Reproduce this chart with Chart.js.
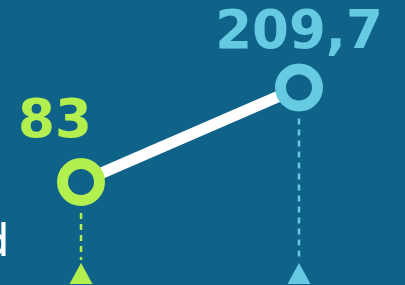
<!DOCTYPE html>
<html>
<head>
<meta charset="utf-8">
<script src="https://cdn.jsdelivr.net/npm/chart.js@4/dist/chart.umd.min.js"></script>
<style>
  html, body { margin: 0; padding: 0; background: #0f6389; overflow: hidden; }
  #wrap { width: 405px; height: 285px; position: relative; }
</style>
</head>
<body>
<div id="wrap"><canvas id="valueChart"></canvas></div>
<script>
// data
const categories = ['Antes', 'Depois'];
const values = [83, 209.7];
const valueLabels = ['83', '209,7'];
const sideText = 'd';

// styles
const bgColor = '#0f6389';
const pointColors = ['#b3ef4f', '#66cae3'];
const labelDx = [-26, 0];
const labelDy = [-45, -40];

const markerPlugin = {
    id: 'markers',
    beforeDatasetsDraw(chart) {
        const ctx = chart.ctx;
        const meta = chart.getDatasetMeta(0);
        ctx.save();
        // cut off text on the left
        ctx.fillStyle = '#ffffff';
        ctx.font = '45px "DejaVu Sans"';
        ctx.textAlign = 'right';
        ctx.textBaseline = 'alphabetic';
        ctx.fillText(sideText, 9.5, 256);

        meta.data.forEach((pt, i) => {
            const col = pointColors[i];
            // dotted drop line
            ctx.strokeStyle = col;
            ctx.lineWidth = 2.5;
            ctx.setLineDash([6, 5]);
            ctx.beginPath();
            ctx.moveTo(pt.x, pt.y + 31);
            ctx.lineTo(pt.x, 260);
            ctx.stroke();
            ctx.setLineDash([]);
            // triangle
            ctx.fillStyle = col;
            ctx.beginPath();
            ctx.moveTo(pt.x, 263);
            ctx.lineTo(pt.x + 11.5, 284);
            ctx.lineTo(pt.x - 11.5, 284);
            ctx.closePath();
            ctx.fill();
        });
        ctx.restore();
    },
    afterDatasetsDraw(chart) {
        const ctx = chart.ctx;
        const meta = chart.getDatasetMeta(0);
        ctx.save();
        ctx.font = 'bold 53px "DejaVu Sans"';
        ctx.textAlign = 'center';
        ctx.textBaseline = 'alphabetic';
        meta.data.forEach((pt, i) => {
            ctx.fillStyle = pointColors[i];
            ctx.fillText(valueLabels[i], pt.x + labelDx[i], pt.y + labelDy[i]);
        });
        ctx.restore();
    }
};

const ctx = document.getElementById('valueChart').getContext('2d');
const chart = new Chart(ctx, {
    type: 'line',
    data: {
        labels: categories,
        datasets: [{
            data: values,
            borderColor: '#ffffff',
            borderWidth: 11.5,
            pointRadius: 18.5,
            pointBorderWidth: 11,
            pointBorderColor: pointColors,
            pointBackgroundColor: bgColor,
            clip: false,
            tension: 0
        }]
    },
    options: {
        responsive: true,
        maintainAspectRatio: false,
        animation: false,
        events: [],
        layout: { autoPadding: false, padding: { left: 81, right: 106, top: 0, bottom: 0 } },
        plugins: {
            legend: { display: false },
            tooltip: { enabled: false }
        },
        scales: {
            x: { display: false, offset: false },
            y: { display: false, min: -55, max: 327 }
        }
    },
    plugins: [markerPlugin]
});
</script>
</body>
</html>
